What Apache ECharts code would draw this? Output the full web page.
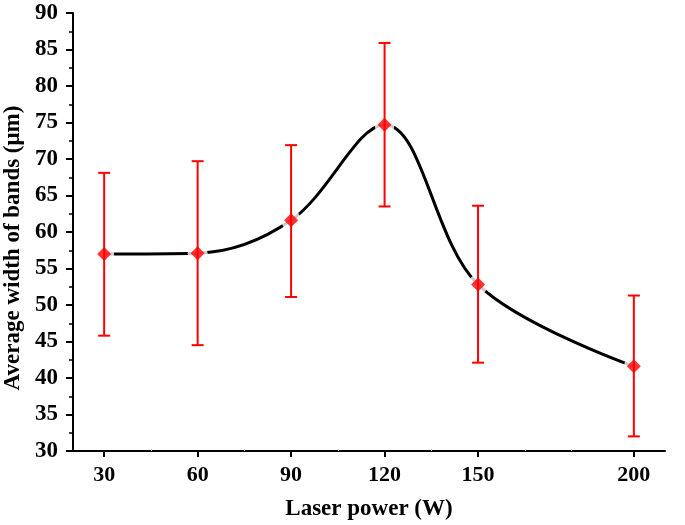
<!DOCTYPE html>
<html>
<head>
<meta charset="utf-8">
<script src="https://cdn.jsdelivr.net/npm/echarts@6/dist/echarts.min.js"></script>
<style>html,body{margin:0;padding:0;background:#fff;}#c{width:685px;height:525px;}</style>
</head>
<body>
<div id="c"></div>
<script>
// Data
const laserPower = [30, 60, 90, 120, 150, 200];
const avgWidth   = [57.0, 57.1, 61.6, 74.7, 52.8, 41.6];
const errLow     = [45.8, 44.5, 51.1, 63.5, 42.1, 32.0];
const errHigh    = [68.1, 69.7, 71.9, 85.9, 63.6, 51.3];
const xTickLabels = [30, 60, 90, 120, 150, 200];
const xFaintTicks = [45, 75, 105, 135, 165, 180];

const font = '"Liberation Serif","Times New Roman",serif';
const pts = laserPower.map((x, i) => [x, avgWidth[i]]);
const errData = laserPower.map((x, i) => [x, errLow[i], errHigh[i]]);

const chart = echarts.init(document.getElementById('c'));
chart.setOption({
  animation: false,
  backgroundColor: '#fff',
  grid: { left: 73, top: 13, right: 20, bottom: 74, containLabel: false, outerBoundsMode: 'none' },
  xAxis: [{
    type: 'value', min: 20, max: 210,
    name: 'Laser power (W)', nameLocation: 'middle', nameGap: 47,
    nameTextStyle: { fontFamily: font, fontWeight: 'bold', fontSize: 23, color: '#000' },
    axisLine: { show: true, lineStyle: { color: '#000', width: 2 } },
    axisTick: { show: true, length: 6, customValues: xTickLabels, lineStyle: { color: '#000', width: 2 } },
    axisLabel: { customValues: xTickLabels, margin: 13, fontFamily: font, fontWeight: 'bold', fontSize: 22, color: '#000' },
    splitLine: { show: false }
  }, {
    type: 'value', min: 20, max: 210, position: 'bottom',
    axisLine: { show: false },
    axisTick: { show: true, inside: true, length: 2, customValues: xFaintTicks, lineStyle: { color: '#ccc', width: 1 } },
    axisLabel: { show: false },
    splitLine: { show: false }
  }],
  yAxis: {
    type: 'value', min: 30, max: 90, interval: 5,
    name: 'Average width of bands (μm)', nameLocation: 'middle', nameGap: 43,
    nameTextStyle: { fontFamily: font, fontWeight: 'bold', fontSize: 23, color: '#000', padding: [0, 32, 0, 0] },
    axisLine: { show: true, lineStyle: { color: '#000', width: 2 } },
    axisTick: { show: true, length: 7, lineStyle: { color: '#000', width: 2 } },
    minorTick: { show: true, splitNumber: 2, length: 4, lineStyle: { color: '#000', width: 1.5 } },
    axisLabel: { margin: 15, fontFamily: font, fontWeight: 'bold', fontSize: 23, color: '#000' },
    splitLine: { show: false }
  },
  series: [
    {
      type: 'line', data: pts, smooth: 0.35, symbol: 'none', z: 2,
      lineStyle: { color: '#000', width: 3 }
    },
    {
      type: 'scatter', data: pts, symbol: 'circle', symbolSize: 20, z: 3,
      itemStyle: { color: '#fff' }, silent: true
    },
    {
      type: 'custom', z: 4, data: errData,
      renderItem: function (params, api) {
        const x = api.value(0);
        const lo = api.coord([x, api.value(1)]);
        const hi = api.coord([x, api.value(2)]);
        const cw = 6;
        const st = { stroke: '#ff0000', lineWidth: 2 };
        return {
          type: 'group',
          children: [
            { type: 'line', shape: { x1: lo[0], y1: lo[1], x2: hi[0], y2: hi[1] }, style: st },
            { type: 'line', shape: { x1: lo[0] - cw, y1: lo[1], x2: lo[0] + cw, y2: lo[1] }, style: st },
            { type: 'line', shape: { x1: hi[0] - cw, y1: hi[1], x2: hi[0] + cw, y2: hi[1] }, style: st }
          ]
        };
      }
    },
    {
      type: 'scatter', data: pts, symbol: 'diamond', symbolSize: [14, 14], z: 5,
      itemStyle: { color: '#ff0000' }
    }
  ]
});
</script>
</body>
</html>
